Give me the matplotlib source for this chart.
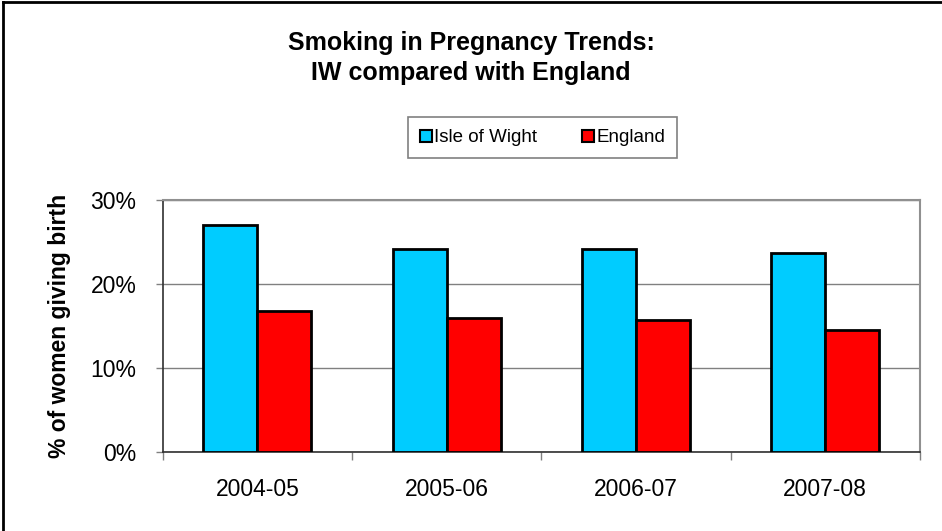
import numpy as np
import matplotlib.pyplot as plt
from matplotlib.lines import Line2D
from matplotlib.ticker import PercentFormatter

plt.rcParams['font.family'] = ['Liberation Sans', 'DejaVu Sans']

# smoking at delivery, % of women giving birth
years = ['2004-05', '2005-06', '2006-07', '2007-08']
iow = [27.0, 24.2, 24.1, 23.7]
england = [16.8, 15.9, 15.7, 14.5]

fig = plt.figure(figsize=(9.42, 5.31), dpi=100)
ax = fig.add_axes([0.1727, 0.1493, 0.8039, 0.4741])

x = np.arange(len(years))
w = 1 / 3.5  # Excel gap width 150%
ax.bar(x - w / 2, iow, w, color='#00CCFF', edgecolor='black', linewidth=2, label='Isle of Wight', zorder=3)
ax.bar(x + w / 2, england, w, color='#FF0000', edgecolor='black', linewidth=2, label='England', zorder=3)

ax.set_xlim(-0.5, len(years) - 0.5)
ax.set_ylim(0, 30)
ax.set_yticks([0, 10, 20, 30])
ax.yaxis.set_major_formatter(PercentFormatter(decimals=0))
ax.yaxis.grid(True, color='#808080', linewidth=1, zorder=0)

ax.set_xticks(x)
ax.set_xticklabels(years)
ax.set_xticks(np.arange(len(years) + 1) - 0.5, minor=True)
ax.tick_params(axis='x', which='major', length=0, pad=19, labelsize=16.5)
ax.tick_params(axis='x', which='minor', length=6, color='#808080', width=1)
ax.tick_params(axis='y', length=5, color='#808080', width=1, labelsize=16.5, pad=14)

for s in ['top', 'right']:
    ax.spines[s].set_color('#909090')
    ax.spines[s].set_linewidth(1.5)
for s in ['left', 'bottom']:
    ax.spines[s].set_color('#303030')
    ax.spines[s].set_linewidth(1.2)

ax.set_ylabel('% of women giving birth', fontsize=16.5, fontweight='bold', labelpad=14)

fig.text(0.5, 0.941, 'Smoking in Pregnancy Trends:\nIW compared with England',
         ha='center', va='top', fontsize=18, fontweight='bold', linespacing=1.3)

handles = [
    Line2D([], [], marker='s', linestyle='none', markersize=8, markerfacecolor='#00CCFF', markeredgecolor='black', markeredgewidth=1.5),
    Line2D([], [], marker='s', linestyle='none', markersize=8, markerfacecolor='#FF0000', markeredgecolor='black', markeredgewidth=1.5),
]
leg = fig.legend(handles, ['Isle of Wight', 'England'], loc='center', bbox_to_anchor=(0.576, 0.741),
                 ncol=2, fontsize=13.5, frameon=True, fancybox=False, handlelength=0.6, handletextpad=0.15,
                 columnspacing=2.4, borderpad=0.65, borderaxespad=0, edgecolor='#606060')
leg.get_frame().set_linewidth(1.2)

# outer chart frame
fig.add_artist(Line2D([0.003, 0.003], [0, 0.997], color='black', linewidth=2, transform=fig.transFigure))
fig.add_artist(Line2D([0.003, 1], [0.997, 0.997], color='black', linewidth=2, transform=fig.transFigure))

fig.savefig('out.png', dpi=100)
